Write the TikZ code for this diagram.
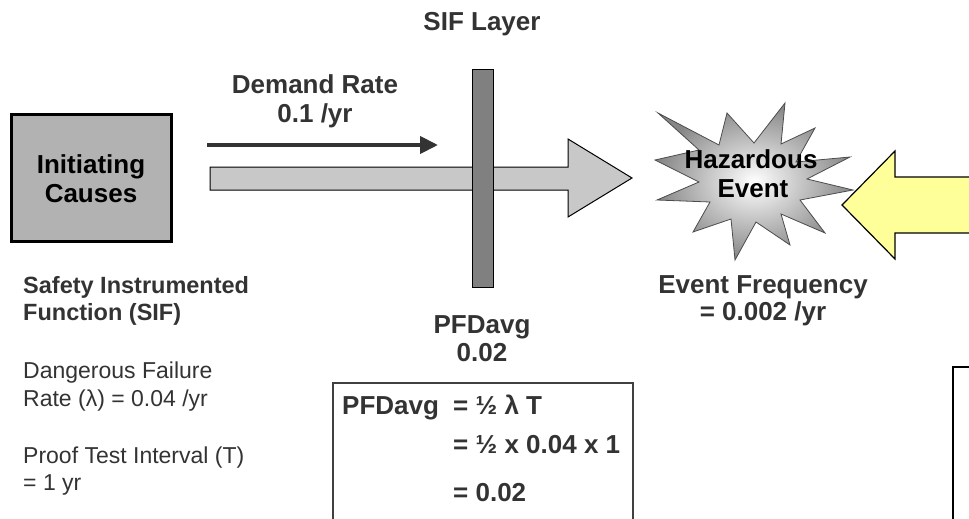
\documentclass[tikz,border=0pt]{standalone}
\usepackage{fontspec}
\setmainfont{Liberation Sans}
\usepackage{tikz}
\usetikzlibrary{arrows.meta}
\definecolor{textgray}{RGB}{51,51,51}
\definecolor{causegray}{RGB}{178,178,178}
\definecolor{flowgray}{RGB}{200,200,200}
\definecolor{layergray}{RGB}{128,128,128}
\definecolor{alertyellow}{RGB}{255,255,153}

\begin{document}
\begin{tikzpicture}[x=1pt,y=-1pt,
  every node/.style={font=\fontsize{23}{27}\selectfont,text=textgray,inner sep=0pt},
  headtext/.style={font=\bfseries\fontsize{26}{30}\selectfont},
  sidehead/.style={font=\bfseries\fontsize{23.5}{27}\selectfont}]
  \useasboundingbox (0,0) rectangle (969,519);
  \clip (0,0) rectangle (969,519);
  % flow through the layer
  \filldraw[fill=flowgray,draw=black,line width=1pt]
    (210,167) -- (568,167) -- (568,139) -- (632,178)
    -- (568,217) -- (568,190) -- (210,190) -- cycle;
  \node[draw=black,line width=1pt,fill=layergray,minimum width=21pt,minimum height=217pt]
    (layer) at (482.5,178.5) {};
  \node[draw=black,line width=3pt,fill=causegray,minimum width=160pt,minimum height=127pt]
    (causes) at (91.5,178) {};
  \coordinate (demandstart) at (207,145);
  \coordinate (demandend) at (438,145);
  \draw[line width=4pt,textgray,-{Triangle[length=18pt,width=17pt]}]
    (demandstart) -- (demandend);
  % hazardous event burst
  \shade[inner color=white,outer color=gray!95,draw=black!70,line width=0.8pt]
    (655,160) -- (699,150) -- (658,113) -- (719,145) -- (727,113) -- (754,143)
    -- (785,103) -- (781,144) -- (815,128) -- (796,162) -- (850,157) -- (807,179)
    -- (853,190) -- (800,200) -- (825,233) -- (781,214) -- (790,245) -- (756,222)
    -- (735,260) -- (731,219) -- (693,232) -- (710,202) -- (657,200) -- (699,182)
    -- cycle;
  \filldraw[fill=alertyellow,draw=black,line width=1.2pt]
    (842,205) -- (895,151) -- (895,177) -- (985,177)
    -- (985,233) -- (895,233) -- (895,259) -- cycle;
  \draw[black!75,line width=1.2pt] (333,540) |- (633,383) -- (633,540);
  \draw[black,line width=2.5pt] (953,540) |- (990,367);

  \node[headtext,anchor=base] (siflayer) at (482,31) {SIF Layer};
  \node[headtext,anchor=base] (demand) at (315,93) {Demand Rate};
  \node[headtext,anchor=base] (demandval) at (315,122) {0.1 /yr};
  \node[headtext,anchor=base,text=black] (init1) at (91,173) {Initiating};
  \node[headtext,anchor=base,text=black] (init2) at (91,202) {Causes};
  \node[headtext,anchor=base,text=black] (hazard1) at (751,168) {Hazardous};
  \node[headtext,anchor=base,text=black] (hazard2) at (753,197) {Event};
  \node[headtext,anchor=base] (freq) at (763,293) {Event Frequency};
  \node[headtext,anchor=base] (freqval) at (763,320) {= 0.002 /yr};
  \node[headtext,anchor=base] (pfd) at (482,333) {PFDavg};
  \node[headtext,anchor=base] (pfdval) at (482,361) {0.02};

  \node[headtext,anchor=base west] (eqlhs) at (342,414) {PFDavg};
  \node[headtext,anchor=base west] (eqone) at (453,414) {= ½ λ T};
  \node[headtext,anchor=base west] (eqtwo) at (453,453) {= ½ x 0.04 x 1};
  \node[headtext,anchor=base west] (eqthree) at (453,501) {= 0.02};

  \node[sidehead,anchor=base west] (sif1) at (23,293) {Safety Instrumented};
  \node[sidehead,anchor=base west] (sif2) at (23,320) {Function (SIF)};
  \node[anchor=base west] (rate1) at (23,378) {Dangerous Failure};
  \node[anchor=base west] (rate2) at (23,406) {Rate (λ) = 0.04 /yr};
  \node[anchor=base west] (test1) at (23,463) {Proof Test Interval (T)};
  \node[anchor=base west] (test2) at (23,490) {= 1 yr};
\end{tikzpicture}
\end{document}
